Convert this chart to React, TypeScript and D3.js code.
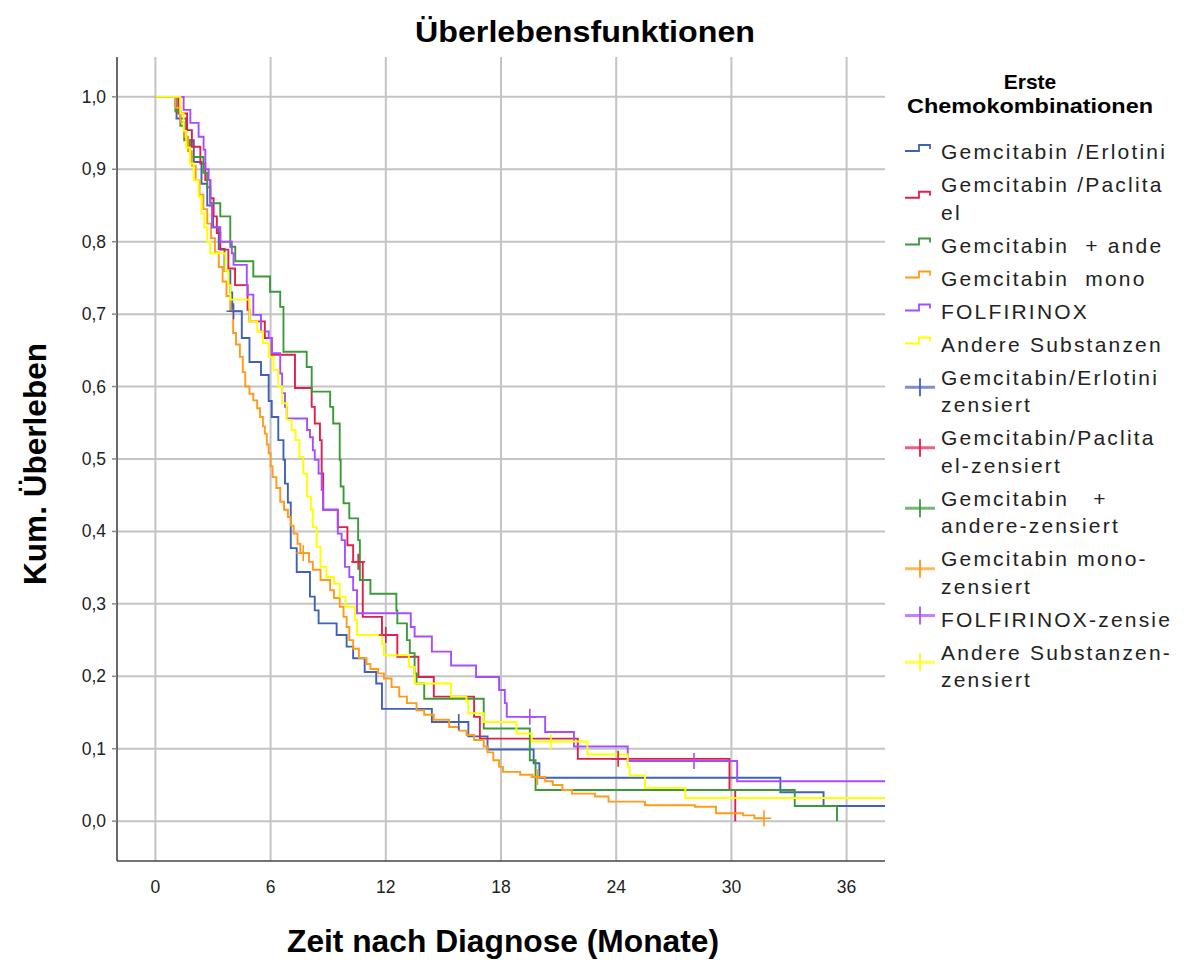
import React from 'react';
import * as d3 from 'd3';

type Step = [number, number];

// Kaplan-Meier step data: [time in months, cumulative survival after the event]
const erlotinibSteps: Step[] = [
  [1.1, 0.97], [1.6, 0.94], [2.0, 0.91], [2.4, 0.88], [2.7, 0.85], [3.0, 0.82], [3.3, 0.79],
  [3.6, 0.76], [3.9, 0.73], [4.0, 0.704], [4.5, 0.667], [4.9, 0.634], [5.5, 0.616], [5.9, 0.58],
  [6.06, 0.558], [6.4, 0.526], [6.67, 0.499], [6.75, 0.466], [6.9, 0.44], [7.05, 0.377],
  [7.36, 0.344], [8.05, 0.31], [8.3, 0.291], [8.5, 0.273], [9.44, 0.257], [9.96, 0.241],
  [10.3, 0.225], [10.9, 0.206], [11.5, 0.19], [11.8, 0.155], [14.4, 0.137], [16.3, 0.117],
  [17.3, 0.099], [19.7, 0.08], [20.0, 0.06], [32.55, 0.04], [34.8, 0.021],
];
const erlotinibCensored: Step[] = [[4.07, 0.704], [15.8, 0.137]];
const erlotinibEnd = 38;

const paclitaxelSteps: Step[] = [
  [1.2, 0.977], [1.65, 0.954], [1.9, 0.931], [2.34, 0.908], [2.6, 0.885], [2.86, 0.86],
  [3.03, 0.835], [3.2, 0.812], [3.38, 0.789], [3.8, 0.763], [4.15, 0.74], [4.8, 0.706],
  [4.9, 0.69], [5.7, 0.667], [6.06, 0.644], [7.27, 0.598], [8.14, 0.572], [8.3, 0.549],
  [8.57, 0.526], [8.66, 0.48], [8.74, 0.43], [9.5, 0.406], [10.0, 0.381], [10.3, 0.358],
  [10.8, 0.282], [11.8, 0.257], [12.6, 0.227], [13.7, 0.199], [14.5, 0.172], [16.6, 0.144],
  [16.9, 0.114], [22.0, 0.086], [29.9, 0.043], [30.2, 0.0],
];
const paclitaxelCensored: Step[] = [[10.56, 0.358], [12.0, 0.257], [24.1, 0.086]];
const paclitaxelEnd = 30.2;

const kombiSteps: Step[] = [
  [1.04, 0.98], [1.3, 0.96], [1.5, 0.94], [1.8, 0.917], [2.5, 0.895], [2.7, 0.875],
  [2.86, 0.853], [3.38, 0.835], [3.9, 0.793], [4.16, 0.773], [5.1, 0.752], [5.97, 0.731],
  [6.5, 0.71], [6.67, 0.648], [7.88, 0.627], [8.14, 0.593], [9.1, 0.572], [9.26, 0.549],
  [9.6, 0.499], [9.65, 0.462], [9.8, 0.439], [10.1, 0.418], [10.56, 0.388], [10.65, 0.333],
  [11.2, 0.314], [12.55, 0.291], [12.6, 0.273], [13.1, 0.25], [13.25, 0.232], [13.5, 0.204],
  [13.6, 0.19], [14.0, 0.169], [17.1, 0.128], [19.5, 0.084], [19.8, 0.043], [33.3, 0.021],
  [35.5, 0.0],
];
const kombiCensored: Step[] = [];
const kombiEnd = 35.5;

const monoSteps: Step[] = [
  [1.05, 0.985], [1.3, 0.965], [1.5, 0.945], [1.7, 0.925], [1.9, 0.905], [2.1, 0.885],
  [2.3, 0.865], [2.5, 0.845], [2.7, 0.825], [2.9, 0.805], [3.1, 0.785], [3.3, 0.765],
  [3.5, 0.745], [3.7, 0.725], [3.9, 0.705], [4.05, 0.674], [4.2, 0.658], [4.4, 0.641],
  [4.55, 0.62], [4.68, 0.6], [4.9, 0.59], [5.1, 0.581], [5.3, 0.57], [5.45, 0.558],
  [5.6, 0.545], [5.7, 0.535], [5.8, 0.52], [5.9, 0.508], [6.0, 0.49], [6.1, 0.475],
  [6.3, 0.46], [6.5, 0.441], [6.7, 0.43], [6.9, 0.42], [7.05, 0.408], [7.2, 0.397],
  [7.4, 0.383], [7.55, 0.37], [8.0, 0.358], [8.2, 0.347], [8.6, 0.333], [9.1, 0.319],
  [9.3, 0.308], [9.6, 0.296], [9.8, 0.282], [9.96, 0.268], [10.1, 0.25], [10.3, 0.238],
  [10.6, 0.225], [11.0, 0.217], [11.2, 0.21], [11.6, 0.204], [11.9, 0.197], [12.3, 0.185],
  [12.7, 0.172], [13.1, 0.163], [13.6, 0.153], [14.0, 0.147], [14.5, 0.14], [15.3, 0.13],
  [15.8, 0.125], [16.2, 0.119], [16.6, 0.112], [17.1, 0.103], [17.3, 0.095], [17.6, 0.084],
  [17.9, 0.075], [18.1, 0.068], [19.0, 0.064], [19.65, 0.061], [20.3, 0.055], [20.7, 0.05],
  [21.2, 0.043], [21.7, 0.038], [22.9, 0.034], [23.6, 0.027], [25.5, 0.022], [28.1, 0.02],
  [29.2, 0.011], [30.6, 0.008], [31.2, 0.004],
];
const monoCensored: Step[] = [[7.7, 0.37], [19.9, 0.061], [31.7, 0.004]];
const monoEnd = 31.7;

const folfirinoxSteps: Step[] = [
  [1.47, 0.982], [1.82, 0.964], [2.25, 0.945], [2.51, 0.927], [2.6, 0.9], [2.77, 0.885],
  [2.86, 0.853], [2.95, 0.82], [3.38, 0.8], [3.98, 0.784], [4.07, 0.768], [4.76, 0.74],
  [4.8, 0.727], [5.1, 0.699], [5.5, 0.676], [5.9, 0.667], [6.06, 0.646], [6.5, 0.618],
  [6.6, 0.591], [6.75, 0.572], [6.84, 0.556], [7.9, 0.54], [8.05, 0.53], [8.2, 0.512],
  [8.3, 0.499], [8.5, 0.48], [8.66, 0.457], [8.74, 0.43], [9.5, 0.397], [9.7, 0.388],
  [9.87, 0.351], [10.1, 0.337], [10.3, 0.319], [10.5, 0.287], [13.3, 0.268], [13.5, 0.255],
  [14.4, 0.234], [15.4, 0.215], [16.7, 0.199], [17.9, 0.181], [18.2, 0.163], [18.3, 0.144],
  [20.3, 0.123], [21.8, 0.103], [24.6, 0.083], [30.3, 0.055],
];
const folfirinoxCensored: Step[] = [[19.5, 0.144], [28.05, 0.083]];
const folfirinoxEnd = 38;

const andereSteps: Step[] = [
  [1.3, 0.977], [1.47, 0.953], [1.6, 0.93], [1.8, 0.908], [2.0, 0.885], [2.25, 0.862],
  [2.4, 0.839], [2.55, 0.82], [2.7, 0.8], [2.86, 0.784], [3.64, 0.76], [3.8, 0.74],
  [3.9, 0.72], [4.9, 0.69], [5.3, 0.676], [5.6, 0.66], [5.9, 0.641], [6.15, 0.623],
  [6.4, 0.6], [6.6, 0.577], [6.84, 0.554], [7.1, 0.54], [7.3, 0.526], [7.5, 0.503],
  [7.7, 0.48], [7.9, 0.448], [8.1, 0.43], [8.2, 0.406], [8.4, 0.379], [8.6, 0.351],
  [8.9, 0.337], [9.3, 0.328], [9.6, 0.31], [9.9, 0.296], [10.4, 0.278], [10.5, 0.257],
  [11.8, 0.245], [11.9, 0.229], [13.2, 0.213], [13.5, 0.19], [15.4, 0.172], [16.2, 0.165],
  [16.3, 0.149], [17.1, 0.137], [18.8, 0.121], [19.6, 0.11], [22.5, 0.092], [24.6, 0.075],
  [24.7, 0.063], [25.5, 0.046], [27.6, 0.032],
];
const andereCensored: Step[] = [[20.6, 0.11]];
const andereEnd = 38;

const xTicks = [0, 6, 12, 18, 24, 30, 36];
const yTicks = [0, 0.1, 0.2, 0.3, 0.4, 0.5, 0.6, 0.7, 0.8, 0.9, 1.0];

const chartTitle = 'Überlebensfunktionen';
const xTitle = 'Zeit nach Diagnose (Monate)';
const yTitle = 'Kum. Überleben';
const legendTitle = ['Erste', 'Chemokombinationen'];

// legend entries as wrapped in the legend column
const groupLabels: string[][] = [
  ['Gemcitabin /Erlotini'],
  ['Gemcitabin /Paclita', 'el'],
  ['Gemcitabin  + ande'],
  ['Gemcitabin  mono'],
  ['FOLFIRINOX'],
  ['Andere Substanzen'],
];
const censoredLabels: string[][] = [
  ['Gemcitabin/Erlotini', 'zensiert'],
  ['Gemcitabin/Paclita', 'el-zensiert'],
  ['Gemcitabin   +', 'andere-zensiert'],
  ['Gemcitabin mono-', 'zensiert'],
  ['FOLFIRINOX-zensie'],
  ['Andere Substanzen-', 'zensiert'],
];

const colors = ['#4062b6', '#e0204b', '#3a9a3a', '#ff9a1a', '#a64dff', '#ffff00'];

const series = [
  { steps: erlotinibSteps, censored: erlotinibCensored, end: erlotinibEnd },
  { steps: paclitaxelSteps, censored: paclitaxelCensored, end: paclitaxelEnd },
  { steps: kombiSteps, censored: kombiCensored, end: kombiEnd },
  { steps: monoSteps, censored: monoCensored, end: monoEnd },
  { steps: folfirinoxSteps, censored: folfirinoxCensored, end: folfirinoxEnd },
  { steps: andereSteps, censored: andereCensored, end: andereEnd },
];

const FONT = '"Liberation Sans", Arial, sans-serif';

export default function App() {
  const left = 117, right = 885, top = 57, bottom = 861;
  const x = d3.scaleLinear().domain([-2, 38]).range([left, right]);
  const y = d3.scaleLinear().domain([-0.055, 1.055]).range([bottom, top]);
  const line = d3
    .line<Step>()
    .x((d) => x(d[0]))
    .y((d) => y(d[1]))
    .curve(d3.curveStepAfter);
  const fmt = (v: number) => d3.format('.1f')(v).replace('.', ',');

  // legend layout
  const legX = 905, textX = 941, itemGap = 33, lineGap = 27.5;
  const entries = [
    ...groupLabels.map((lines, i) => ({ lines, color: colors[i], kind: 'line' })),
    ...censoredLabels.map((lines, i) => ({ lines, color: colors[i], kind: 'censor' })),
  ];
  let cursor = 152;
  const legendRows = entries.map((e) => {
    const first = cursor;
    const last = first + (e.lines.length - 1) * lineGap;
    cursor = last + itemGap;
    return { ...e, first, mid: (first + last) / 2 };
  });

  return (
    <svg
      width={1184}
      height={960}
      style={{ position: 'absolute', left: 0, top: 0, background: '#fff' }}
      fontFamily={FONT}
    >
      <defs>
        <clipPath id="plot-clip">
          <rect x={left} y={top} width={right - left} height={bottom - top} />
        </clipPath>
      </defs>
      <rect width={1184} height={960} fill="#fff" />

      {/* grid */}
      {yTicks.map((t) => (
        <line key={'gy' + t} x1={left} x2={right} y1={y(t)} y2={y(t)} stroke="#c4c4c4" strokeWidth={2} />
      ))}
      {xTicks.map((t) => (
        <line key={'gx' + t} x1={x(t)} x2={x(t)} y1={top} y2={bottom} stroke="#c4c4c4" strokeWidth={2} />
      ))}

      {/* axes */}
      <line x1={left} x2={left} y1={top} y2={bottom} stroke="#444" strokeWidth={1.6} />
      <line x1={left} x2={right} y1={bottom} y2={bottom} stroke="#444" strokeWidth={1.6} />
      {yTicks.map((t) => (
        <g key={'ty' + t}>
          <line x1={left - 5} x2={left} y1={y(t)} y2={y(t)} stroke="#888" strokeWidth={1.5} />
          <text x={106} y={y(t) + 6} textAnchor="end" fontSize={17.5} fill="#222">
            {fmt(t)}
          </text>
        </g>
      ))}
      {xTicks.map((t) => (
        <text key={'tx' + t} x={x(t)} y={893} textAnchor="middle" fontSize={17.5} fill="#222">
          {t}
        </text>
      ))}

      {/* survival curves */}
      <g clipPath="url(#plot-clip)">
        {series.map((s, i) => {
          const last = s.steps[s.steps.length - 1];
          const pts: Step[] = [[0, 1], ...s.steps];
          if (s.end > last[0]) pts.push([s.end, last[1]]);
          return (
            <path key={'c' + i} d={line(pts) || ''} fill="none" stroke={colors[i]} strokeWidth={1.9} />
          );
        })}
        {series.map((s, i) =>
          s.censored.map((c, j) => (
            <g key={'m' + i + '-' + j} stroke={colors[i]} strokeWidth={1.6}>
              <line x1={x(c[0]) - 7} x2={x(c[0]) + 7} y1={y(c[1])} y2={y(c[1])} />
              <line x1={x(c[0])} x2={x(c[0])} y1={y(c[1]) - 8} y2={y(c[1]) + 8} />
            </g>
          ))
        )}
      </g>

      {/* titles */}
      <text x={585} y={42} textAnchor="middle" fontSize={30} fontWeight="bold" textLength={340} lengthAdjust="spacingAndGlyphs">
        {chartTitle}
      </text>
      <text x={503} y={952} textAnchor="middle" fontSize={31} fontWeight="bold" textLength={432} lengthAdjust="spacingAndGlyphs">
        {xTitle}
      </text>
      <text
        transform={`translate(46, 464) rotate(-90)`}
        textAnchor="middle"
        fontSize={31}
        fontWeight="bold"
        textLength={242}
        lengthAdjust="spacingAndGlyphs"
      >
        {yTitle}
      </text>

      {/* legend */}
      <text x={1030} y={89} textAnchor="middle" fontSize={21} fontWeight="bold">
        {legendTitle[0]}
      </text>
      <text x={1030} y={113} textAnchor="middle" fontSize={21} fontWeight="bold" textLength={246} lengthAdjust="spacingAndGlyphs">
        {legendTitle[1]}
      </text>
      {legendRows.map((r, i) => {
        const sy = r.mid - 4;
        return (
          <g key={'lg' + i}>
            {r.kind === 'line' ? (
              <path
                d={`M${legX},${sy + 3}H${legX + 14}V${sy - 3}H${legX + 25}V${sy + 1}`}
                fill="none"
                stroke={r.color}
                strokeWidth={1.8}
              />
            ) : (
              <g stroke={r.color}>
                <line x1={legX} x2={legX + 30} y1={sy} y2={sy} strokeWidth={3} strokeOpacity={0.7} />
                <line x1={legX + 15} x2={legX + 15} y1={sy - 9} y2={sy + 9} strokeWidth={1.8} />
              </g>
            )}
            {r.lines.map((ln, k) => (
              <text
                key={k}
                x={textX}
                y={r.first + k * lineGap + 7}
                fontSize={21}
                letterSpacing={2.2}
                fill="#222"
                style={{ whiteSpace: 'pre' }}
              >
                {ln}
              </text>
            ))}
          </g>
        );
      })}
    </svg>
  );
}
